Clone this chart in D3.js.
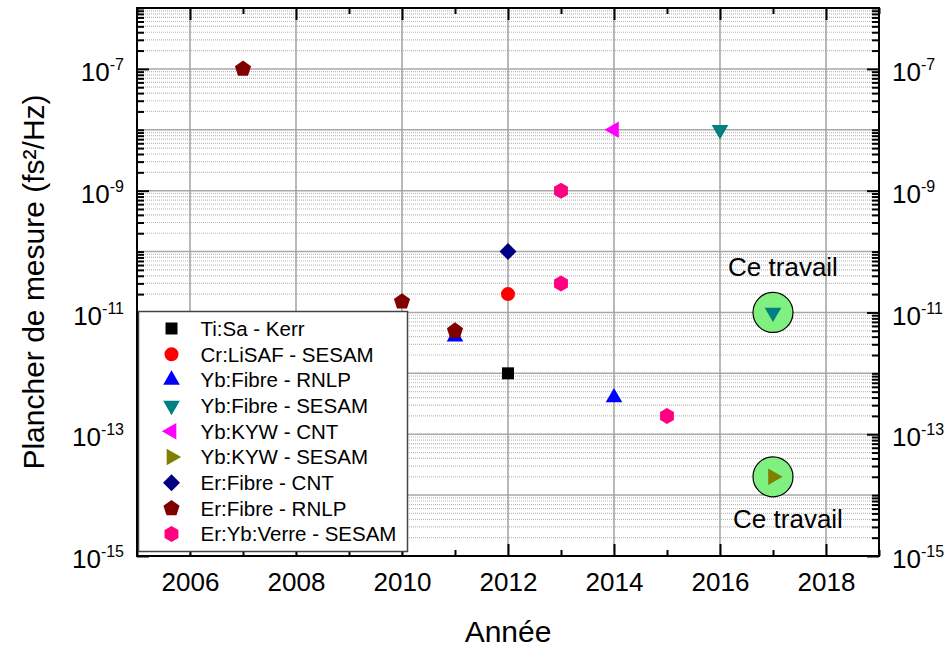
<!DOCTYPE html>
<html>
<head>
<meta charset="utf-8">
<script src="https://cdn.jsdelivr.net/npm/d3@7"></script>
<style>
  body { margin: 0; background: #fff; }
  text { font-family: "Liberation Sans", Arial, sans-serif; }
</style>
</head>
<body>
<div id="main"></div>
<script>
// data
var seriesNames = ["Ti:Sa - Kerr", "Cr:LiSAF - SESAM", "Yb:Fibre - RNLP", "Yb:Fibre - SESAM",
  "Yb:KYW - CNT", "Yb:KYW - SESAM", "Er:Fibre - CNT", "Er:Fibre - RNLP", "Er:Yb:Verre - SESAM"];
var seriesYears = [[2012], [2012], [2011, 2014], [2016, 2017], [2014], [2017], [2012], [2007, 2010, 2011], [2013, 2013, 2015]];
var seriesFloors = [[1e-12], [2e-11], [4e-12, 4e-13], [1e-8, 1e-11], [1e-8], [2e-14], [1e-10], [1e-7, 1.5e-11, 5e-12], [1e-9, 3e-11, 2e-13]];
var thisWorkYears = [2017, 2017];
var thisWorkFloors = [1e-11, 2e-14];
var thisWorkLabel = "Ce travail";
var xTickYears = [2006, 2008, 2010, 2012, 2014, 2016, 2018];
var yTickExps = [-15, -13, -11, -9, -7];

var colors = ["#000000", "#ff0000", "#0000ff", "#008080", "#ff00ff", "#808000", "#000080", "#800000", "#ff0080"];

// marker shapes. size is r*r for the polygons
function polygon(n, start) {
  return {
    draw: function(ctx, size) {
      var r = Math.sqrt(size);
      for (var i = 0; i < n; i++) {
        var a = start + i * 2 * Math.PI / n;
        if (i == 0) ctx.moveTo(r * Math.cos(a), r * Math.sin(a));
        else ctx.lineTo(r * Math.cos(a), r * Math.sin(a));
      }
      ctx.closePath();
    }
  };
}
var shapes = [
  { type: d3.symbolSquare, size: 144, rot: 0 },
  { type: d3.symbolCircle, size: 154, rot: 0 },
  { type: d3.symbolTriangle, size: 120, rot: 0 },
  { type: d3.symbolTriangle, size: 120, rot: 180 },
  { type: d3.symbolTriangle, size: 120, rot: -90 },
  { type: d3.symbolTriangle, size: 120, rot: 90 },
  { type: d3.symbolSquare, size: 144, rot: 45 },
  { type: polygon(5, -Math.PI / 2), size: 72, rot: 0 },
  { type: polygon(6, -Math.PI / 2), size: 64, rot: 0 }
];

var W = 951, H = 647;
var margin = { top: 8, right: 72, bottom: 91, left: 137 };

var x = d3.scaleLinear().domain([2005, 2019]).range([margin.left, W - margin.right]);
var y = d3.scaleLog().domain([1e-15, 1e-6]).range([H - margin.bottom, margin.top]);

var svg = d3.select("#main").append("svg").attr("width", W).attr("height", H);

// minor and major y values for grid / ticks
var minorY = [], decadesY = [];
for (var e = -15; e <= -6; e++) {
  decadesY.push(Math.pow(10, e));
  if (e < -6) for (var m = 2; m <= 9; m++) minorY.push(m * Math.pow(10, e));
}
var oddYears = d3.range(2005, 2020, 2);

// grid
var grid = svg.append("g");
grid.selectAll(".minor").data(minorY).enter().append("line")
  .attr("x1", x(2005)).attr("x2", x(2019))
  .attr("y1", function(d) { return y(d); }).attr("y2", function(d) { return y(d); })
  .attr("stroke", "#bcbcbc").attr("stroke-width", 1.2).attr("stroke-dasharray", "1,1");
grid.selectAll(".major").data(decadesY).enter().append("line")
  .attr("x1", x(2005)).attr("x2", x(2019))
  .attr("y1", function(d) { return y(d); }).attr("y2", function(d) { return y(d); })
  .attr("stroke", "#a8a8a8").attr("stroke-width", 1.5);
grid.selectAll(".vert").data(xTickYears).enter().append("line")
  .attr("x1", function(d) { return x(d); }).attr("x2", function(d) { return x(d); })
  .attr("y1", y(1e-15)).attr("y2", y(1e-6))
  .attr("stroke", "#a0a0a0").attr("stroke-width", 1.5);

// axes, ticks pointing inward
function styleAxis(g) {
  g.select(".domain").remove();
  g.selectAll(".tick line").attr("stroke", "#000").attr("stroke-width", 2);
}
var majorY = yTickExps.map(function(e) { return Math.pow(10, e); });
var shortY = minorY.concat(decadesY.filter(function(d) { return majorY.indexOf(d) < 0; }));

svg.append("g").attr("transform", transform(0, H - margin.bottom))
  .call(d3.axisBottom(x).tickValues(xTickYears).tickSize(-12).tickPadding(17).tickFormat(d3.format("d")))
  .call(styleAxis)
  .selectAll("text").attr("font-size", 26).attr("fill", "#000").style("font-family", '"Liberation Sans", Arial, sans-serif');
svg.append("g").attr("transform", transform(0, H - margin.bottom))
  .call(d3.axisBottom(x).tickValues(oddYears).tickSize(-6).tickFormat(""))
  .call(styleAxis);
svg.append("g").attr("transform", transform(0, margin.top))
  .call(d3.axisTop(x).tickValues(xTickYears).tickSize(-12).tickFormat(""))
  .call(styleAxis);
svg.append("g").attr("transform", transform(0, margin.top))
  .call(d3.axisTop(x).tickValues(oddYears).tickSize(-6).tickFormat(""))
  .call(styleAxis);

function powLabel(sel) {
  sel.selectAll("text").each(function(d) {
    var t = d3.select(this).text("").attr("font-size", 26).attr("fill", "#000").attr("dy", "0.45em")
      .style("font-family", '"Liberation Sans", Arial, sans-serif');
    t.append("tspan").text("10");
    t.append("tspan").attr("font-size", 16).attr("dy", -11).text(Math.round(Math.log10(d)));
  });
}
svg.append("g").attr("transform", transform(margin.left, 0))
  .call(d3.axisLeft(y).tickValues(majorY).tickSize(-12).tickPadding(13))
  .call(styleAxis).call(powLabel);
svg.append("g").attr("transform", transform(margin.left, 0))
  .call(d3.axisLeft(y).tickValues(shortY).tickSize(-7).tickFormat(""))
  .call(styleAxis);
svg.append("g").attr("transform", transform(W - margin.right, 0))
  .call(d3.axisRight(y).tickValues(majorY).tickSize(-12).tickPadding(13))
  .call(styleAxis).call(powLabel);
svg.append("g").attr("transform", transform(W - margin.right, 0))
  .call(d3.axisRight(y).tickValues(shortY).tickSize(-7).tickFormat(""))
  .call(styleAxis);

// "Ce travail" highlights
svg.selectAll(".work").data(thisWorkYears).enter().append("circle")
  .attr("cx", function(d) { return x(d); })
  .attr("cy", function(d, i) { return y(thisWorkFloors[i]); })
  .attr("r", 20).attr("fill", "#80f080").attr("stroke", "#000").attr("stroke-width", 1.2);
svg.append("text").attr("x", x(2017) + 10).attr("y", y(thisWorkFloors[0]) - 36)
  .attr("text-anchor", "middle").attr("font-size", 26).text(thisWorkLabel);
svg.append("text").attr("x", x(2017) + 15).attr("y", y(thisWorkFloors[1]) + 51)
  .attr("text-anchor", "middle").attr("font-size", 26).text(thisWorkLabel);

function marker(i) {
  return d3.symbol().type(shapes[i].type).size(shapes[i].size)();
}

// data points
seriesNames.forEach(function(name, i) {
  var pts = seriesYears[i].map(function(yr, j) { return [yr, seriesFloors[i][j]]; });
  svg.append("g").selectAll("path").data(pts).enter().append("path")
    .attr("d", marker(i))
    .attr("transform", function(d) { return transform(x(d[0]), y(d[1])) + " rotate(" + shapes[i].rot + ")"; })
    .attr("fill", colors[i]);
});

// legend (covers the ticks below it)
var legend = svg.append("g").attr("transform", transform(138.5, 311.5));
legend.append("rect").attr("width", 269).attr("height", 240)
  .attr("fill", "#fff").attr("stroke", "#444").attr("stroke-width", 1.5);
var rows = legend.selectAll("g").data(seriesNames).enter().append("g")
  .attr("transform", function(d, i) { return transform(0, 17 + i * 25.7); });
rows.append("path")
  .attr("d", function(d, i) { return marker(i); })
  .attr("transform", function(d, i) { return transform(33, 0) + " rotate(" + shapes[i].rot + ")"; })
  .attr("fill", function(d, i) { return colors[i]; });
rows.append("text").attr("x", 62).attr("dy", "0.36em").attr("font-size", 20.5).text(function(d) { return d; });

// frame
svg.append("rect").attr("x", margin.left).attr("y", margin.top)
  .attr("width", x(2019) - x(2005)).attr("height", y(1e-15) - y(1e-6))
  .attr("fill", "none").attr("stroke", "#000").attr("stroke-width", 2);

// titles
svg.append("text").attr("x", x(2012)).attr("y", 642).attr("text-anchor", "middle")
  .attr("font-size", 30).text("Année");
svg.append("text").attr("transform", transform(44, (y(1e-15) + y(1e-6)) / 2) + " rotate(-90)")
  .attr("text-anchor", "middle").attr("font-size", 30).text("Plancher de mesure (fs²/Hz)");

function transform(px, py) {
  return "translate(" + px + "," + py + ")";
}
</script>
</body>
</html>
